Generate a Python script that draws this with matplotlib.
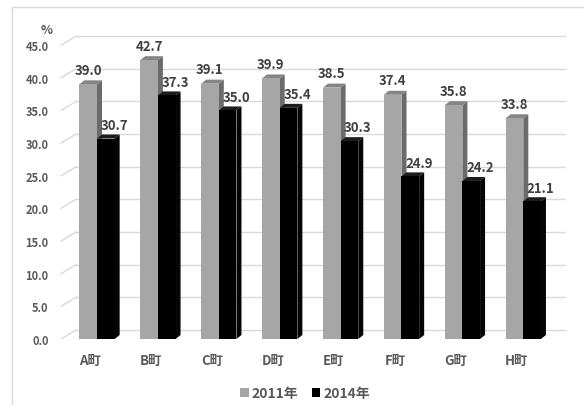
import matplotlib
matplotlib.use("Agg")
import matplotlib.pyplot as plt
from matplotlib.patches import Polygon, Rectangle, Patch
import numpy as np

plt.rcParams['font.family'] = ['Noto Sans CJK JP', 'DejaVu Sans']

towns = ['A町', 'B町', 'C町', 'D町', 'E町', 'F町', 'G町', 'H町']
v2011 = [39.0, 42.7, 39.1, 39.9, 38.5, 37.4, 35.8, 33.8]
v2014 = [30.7, 37.3, 35.0, 35.4, 30.3, 24.9, 24.2, 21.1]
yticks = [0, 5, 10, 15, 20, 25, 30, 35, 40, 45]

W, H = 584, 406
fig = plt.figure(figsize=(W / 100, H / 100), dpi=100)

# outer frame
fig.patches.append(Rectangle((12 / W, -0.1), 1.2, (H - 8) / H + 0.1,
                             transform=fig.transFigure, fill=False,
                             edgecolor='#d9d9d9', lw=1))

# pixel scale: 60.9 px per category, 6.53 px per percent
xpx, ypx = 60.9, 6.53
x0_px, y0_px = 97, 340
xlo, xhi = -0.75, 7.9
ylo, yhi = 0, 50
ax = fig.add_axes([(x0_px + xlo * xpx) / W, (H - y0_px) / H,
                   (xhi - xlo) * xpx / W, (yhi - ylo) * ypx / H])
ax.set_xlim(xlo, xhi)
ax.set_ylim(ylo, yhi)
for s in ax.spines.values():
    s.set_visible(False)

# back wall gridlines (shifted into depth)
wx, wy = 15 / xpx, 9 / ypx
xleft, xright = (61 - x0_px) / xpx, (565 - x0_px) / xpx
for v in yticks:
    ax.plot([xleft, xleft + wx], [v, v + wy], color='#d9d9d9', lw=1, zorder=0)
    ax.plot([xleft + wx, xright], [v + wy, v + wy], color='#d9d9d9', lw=1, zorder=0)

# 3d-ish columns
bw = 0.29
dx, dy = 5 / xpx, 4 / ypx


def column(xl, v, front, top, side, z):
    xr = xl + bw
    ax.add_patch(Polygon([(xr, 0), (xr + dx, dy), (xr + dx, v + dy), (xr, v)],
                         closed=True, facecolor=side, edgecolor='none', zorder=z))
    ax.add_patch(Polygon([(xl, v), (xl + dx, v + dy), (xr + dx, v + dy), (xr, v)],
                         closed=True, facecolor=top, edgecolor='none', zorder=z))
    ax.add_patch(Rectangle((xl, 0), bw, v, facecolor=front, edgecolor='none', zorder=z))


x = np.arange(len(towns))
for i in x:
    column(i - bw, v2011[i], '#a6a6a6', '#858585', '#6b6b6b', 2 + i * 2)
    column(i, v2014[i], '#000000', '#1c1c1c', '#050505', 3 + i * 2)
    ax.text(i - bw / 2, v2011[i] + 2.2, f'{v2011[i]:.1f}', ha='center', va='center',
            fontsize=9.5, color='#404040', fontweight='bold', zorder=30)
    ax.text(i + bw / 2 + 0.14, v2014[i] + 2.1, f'{v2014[i]:.1f}', ha='center', va='center',
            fontsize=9.5, color='#404040', fontweight='bold', zorder=30)

ax.set_yticks(yticks)
ax.set_yticklabels([f'{v:.1f}' for v in yticks])
ax.set_xticks(x - 0.11)
ax.set_xticklabels(towns)
ax.tick_params(axis='y', length=0, pad=2, labelsize=8, labelcolor='#595959')
ax.tick_params(axis='x', length=0, pad=10, labelsize=9.5, labelcolor='#595959')
for lab in ax.get_yticklabels() + ax.get_xticklabels():
    lab.set_fontweight('bold')

fig.text(47 / W, (H - 30) / H, '%', ha='center', va='center', fontsize=9,
         color='#595959', fontweight='bold')

handles = [Patch(facecolor='#a6a6a6', label='2011年'),
           Patch(facecolor='#000000', label='2014年')]
leg = fig.legend(handles=handles, loc='center', bbox_to_anchor=(305 / W, (H - 394) / H),
                 ncol=2, frameon=False, handlelength=0.6, handleheight=0.6,
                 handletextpad=0.2, columnspacing=1.0,
                 prop={'size': 10, 'weight': 'bold'})
for t in leg.get_texts():
    t.set_color('#595959')

fig.savefig('out.png', dpi=100)
